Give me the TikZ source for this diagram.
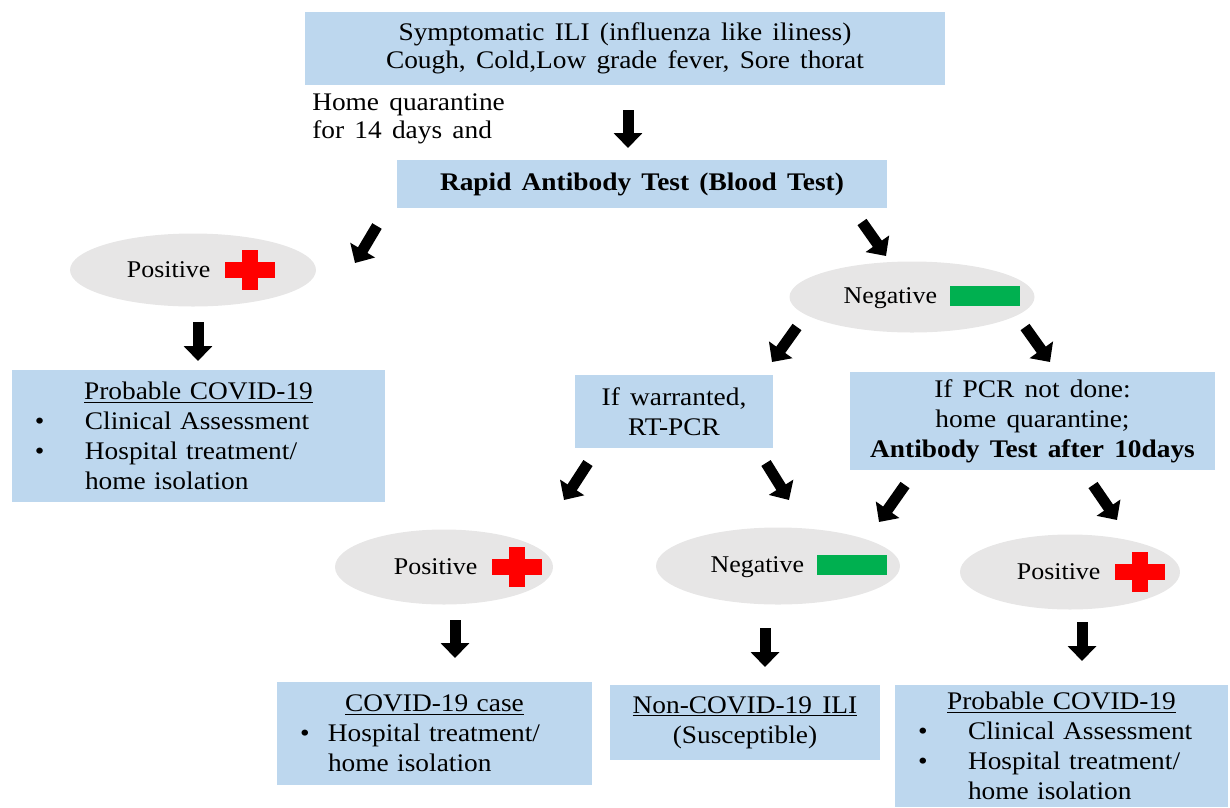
\documentclass[tikz,border=0pt]{standalone}
\usepackage{fontspec}
\setmainfont[FakeStretch=1.08,WordSpace=1.5]{Liberation Serif}
\usetikzlibrary{shapes.geometric,arrows.meta}
\definecolor{boxblue}{RGB}{189,215,238}
\definecolor{ovalgray}{RGB}{231,230,230}
\definecolor{crossred}{RGB}{255,0,0}
\definecolor{bargreen}{RGB}{0,176,80}
\newcommand{\redcross}{\textcolor{crossred}{\makebox[37.5pt][l]{\rule[-0.5pt]{37.5pt}{12pt}\hspace{-24.75pt}\rule[-9.5pt]{12pt}{30pt}}}}
\newcommand{\greenbar}{\textcolor{bargreen}{\rule[-2pt]{52.5pt}{15pt}}}
\newcommand{\bulitem}[2]{\makebox[\linewidth][l]{\makebox[#1][l]{\textbullet}#2}}
\newcommand{\contitem}[2]{\makebox[\linewidth][l]{\hspace{#1}#2}}
\begin{document}
\begin{tikzpicture}[x=0.75pt,y=-0.75pt,line join=bevel,
  bluebox/.style={draw=none,fill=boxblue,inner sep=0pt,align=center,font=\fontsize{19pt}{22.5pt}\selectfont},
  oval/.style={ellipse,draw=none,fill=ovalgray,inner sep=0pt,font=\fontsize{18pt}{20pt}\selectfont},
  fatarrow/.style={black,line width=8.25pt,-{Triangle[length=11.25pt,width=21pt]}},
]
%%
\useasboundingbox (0,0) rectangle (1230,807);
\node (node_ili) at (625,48.5) [bluebox,minimum width=480pt,minimum height=54.75pt,font=\fontsize{19pt}{21pt}\selectfont] {Symptomatic ILI (influenza like iliness)\\Cough, Cold,Low grade fever, Sore thorat};
  \node (node_home) at (312,119) [anchor=west,align=left,inner sep=0pt,font=\fontsize{19pt}{21pt}\selectfont] {Home quarantine\\for 14 days and};
  \node (node_rapid) at (642,184) [bluebox,minimum width=367.5pt,minimum height=36pt,font=\bfseries\fontsize{19pt}{21pt}\selectfont] {Rapid Antibody Test (Blood Test)};
  \node (node_pos1) at (193,270) [oval,minimum width=184.5pt,minimum height=54.75pt] {\makebox[0pt]{\hspace{12pt}Positive\hspace{11pt}\redcross}};
  \node (node_neg1) at (912,297) [oval,minimum width=183.75pt,minimum height=53.25pt] {\makebox[0pt]{\hspace{30pt}Negative\hspace{10pt}\greenbar}};
  \node (node_prob1) at (198.5,436) [bluebox,minimum height=99pt,text width=245.25pt,inner xsep=17.25pt] {\underline{Probable COVID-19}\\\bulitem{37.5pt}{Clinical Assessment}\\\bulitem{37.5pt}{Hospital treatment/}\\\contitem{37.5pt}{home isolation}};
  \node (node_warr) at (674,411.5) [bluebox,minimum width=148.5pt,minimum height=54.75pt] {If warranted,\\RT-PCR};
  \node (node_nopcr) at (1032.5,421) [bluebox,minimum width=273.75pt,minimum height=73.5pt] {If PCR not done:\\home quarantine;\\\textbf{Antibody Test after 10days}};
  \node (node_pos2) at (444,567) [oval,minimum width=163.5pt,minimum height=56.25pt] {\makebox[0pt]{\hspace{36pt}Positive\hspace{11pt}\redcross}};
  \node (node_neg2) at (778,566) [oval,minimum width=183pt,minimum height=57.75pt] {\makebox[0pt]{\hspace{31.5pt}Negative\hspace{10pt}\greenbar}};
  \node (node_pos3) at (1070,572) [oval,minimum width=165pt,minimum height=56.25pt] {\makebox[0pt]{\hspace{31.5pt}Positive\hspace{11pt}\redcross}};
  \node (node_case) at (434.5,733.5) [bluebox,minimum height=77.25pt,text width=201.75pt,inner xsep=17.25pt] {\underline{COVID-19 case}\\\bulitem{21pt}{Hospital treatment/}\\\contitem{21pt}{home isolation}};
  \node (node_noncov) at (745,722.5) [bluebox,minimum width=202.5pt,minimum height=56.25pt] {\underline{Non-COVID-19 ILI}\\(Susceptible)};
  \node (node_prob2) at (1061.5,746) [bluebox,minimum height=91.5pt,text width=215.25pt,inner xsep=17.25pt] {\underline{Probable COVID-19}\\\bulitem{37.5pt}{Clinical Assessment}\\\bulitem{37.5pt}{Hospital treatment/}\\\contitem{37.5pt}{home isolation}};
%
\coordinate (arr_1a) at (628,110);   \coordinate (arr_1b) at (628,148);
  \coordinate (arr_2a) at (377,226);   \coordinate (arr_2b) at (355,263);
  \coordinate (arr_3a) at (862,222);   \coordinate (arr_3b) at (886,256);
  \coordinate (arr_4a) at (198,322);   \coordinate (arr_4b) at (198,361);
  \coordinate (arr_5a) at (797,327);   \coordinate (arr_5b) at (772,362);
  \coordinate (arr_6a) at (1025,327);  \coordinate (arr_6b) at (1050,362);
  \coordinate (arr_7a) at (588,463);   \coordinate (arr_7b) at (564,500);
  \coordinate (arr_8a) at (766,463);   \coordinate (arr_8b) at (789,500);
  \coordinate (arr_9a) at (905,485);   \coordinate (arr_9b) at (879,522);
  \coordinate (arr_10a) at (1093,485); \coordinate (arr_10b) at (1117,520);
  \coordinate (arr_11a) at (455,620);  \coordinate (arr_11b) at (455,658);
  \coordinate (arr_12a) at (765,628);  \coordinate (arr_12b) at (765,667);
  \coordinate (arr_13a) at (1082,622); \coordinate (arr_13b) at (1082,661);
%
\draw [fatarrow] (arr_1a) -- (arr_1b);
  \draw [fatarrow] (arr_2a) -- (arr_2b);
  \draw [fatarrow] (arr_3a) -- (arr_3b);
  \draw [fatarrow] (arr_4a) -- (arr_4b);
  \draw [fatarrow] (arr_5a) -- (arr_5b);
  \draw [fatarrow] (arr_6a) -- (arr_6b);
  \draw [fatarrow] (arr_7a) -- (arr_7b);
  \draw [fatarrow] (arr_8a) -- (arr_8b);
  \draw [fatarrow] (arr_9a) -- (arr_9b);
  \draw [fatarrow] (arr_10a) -- (arr_10b);
  \draw [fatarrow] (arr_11a) -- (arr_11b);
  \draw [fatarrow] (arr_12a) -- (arr_12b);
  \draw [fatarrow] (arr_13a) -- (arr_13b);
%
\end{tikzpicture}
\end{document}
